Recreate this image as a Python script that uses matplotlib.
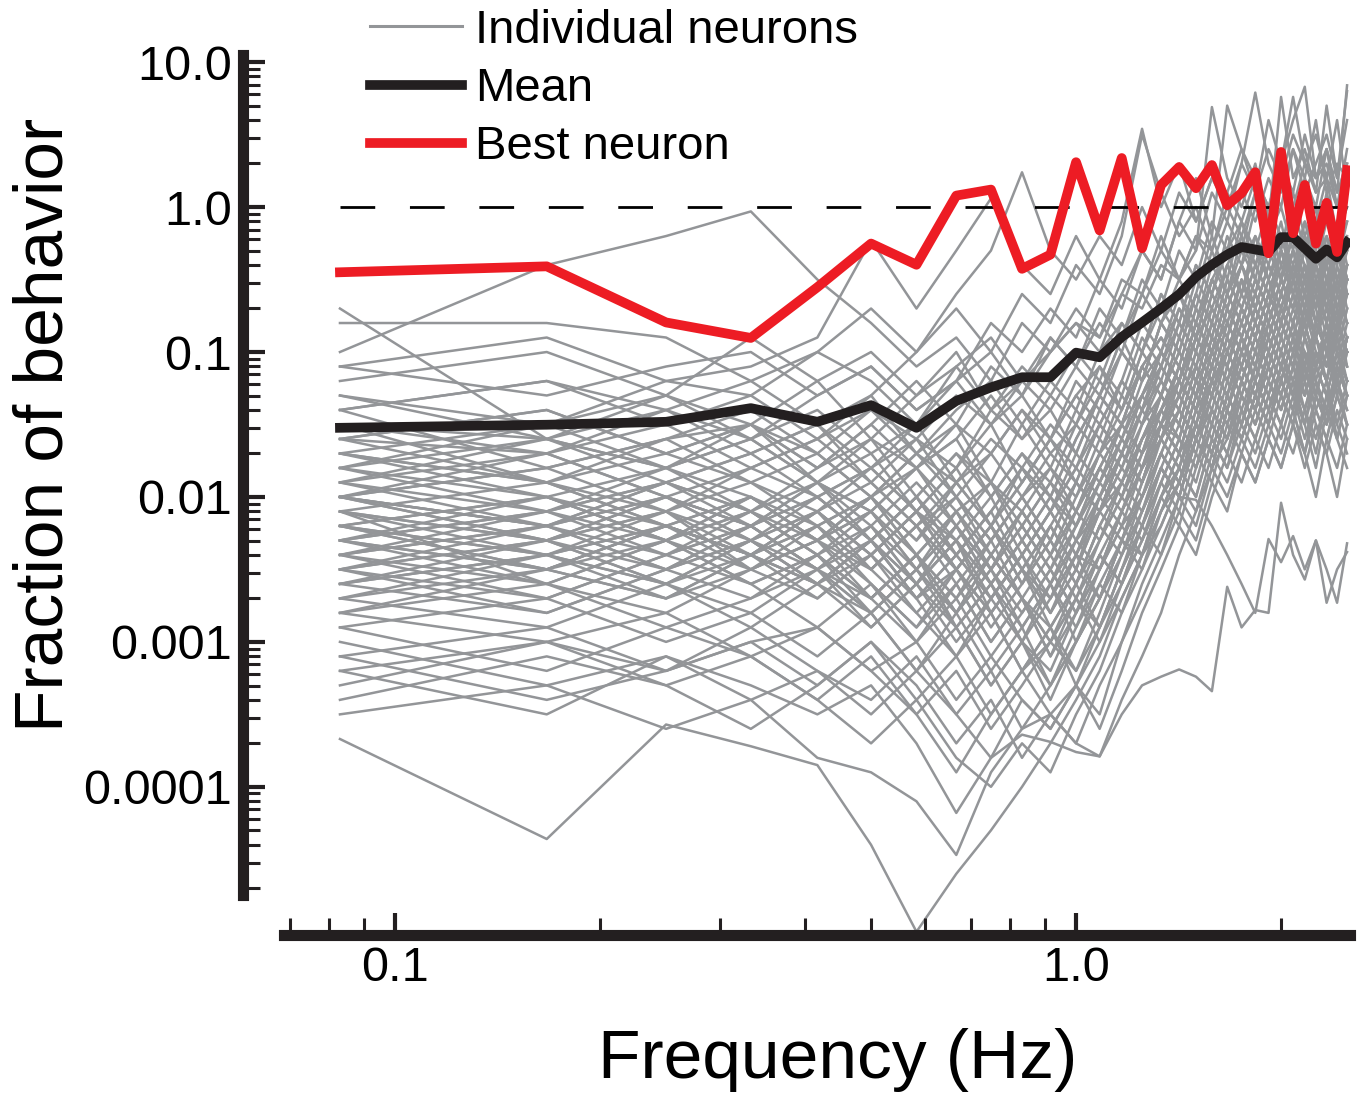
import numpy as np
import matplotlib
matplotlib.use("Agg")
import matplotlib.pyplot as plt
from matplotlib.ticker import FixedLocator, NullFormatter

plt.rcParams["font.family"] = ["Liberation Sans", "DejaVu Sans"]
plt.rcParams["lines.scale_dashes"] = False

# stimulus frequencies (Hz)
freq = [0.083, 0.167, 0.25, 0.333, 0.417, 0.5, 0.583, 0.667, 0.75, 0.833,
        0.917, 1.0, 1.083, 1.167, 1.25, 1.333, 1.417, 1.5, 1.583, 1.667,
        1.75, 1.833, 1.917, 2.0, 2.083, 2.167, 2.25, 2.333, 2.417, 2.5]

mean_frac = [0.030, 0.0315, 0.033, 0.041, 0.033, 0.043, 0.030, 0.046, 0.057, 0.067,
             0.067, 0.099, 0.092, 0.127, 0.16, 0.20, 0.25, 0.33, 0.40, 0.47,
             0.53, 0.51, 0.49, 0.62, 0.62, 0.52, 0.44, 0.51, 0.45, 0.57]

best_frac = [0.355, 0.39, 0.16, 0.125, 0.28, 0.56, 0.40, 1.2, 1.32, 0.375,
             0.47, 2.04, 0.69, 2.18, 0.52, 1.42, 1.89, 1.35, 1.95, 1.03,
             1.25, 1.74, 0.48, 2.4, 0.66, 1.42, 0.56, 1.07, 0.49, 1.8]

neurons_high = [
    [-0.7, -1.6, -1.3, -0.9, -1.2, -1.0, -1.3, -1.1, -0.9, -1.2, -1.0, -0.8, -0.9, -0.6, -0.7, -0.4, -0.5, -0.2, -0.3, 0.0, -0.2, 0.1, -0.1, 0.2, 0.0, 0.3, 0.1, 0.2, 0.0, 0.3],
    [-1.0, -0.4, -0.2, -0.03, -0.5, -0.8, -1.1, -0.9, -1.2, -0.8, -1.0, -0.7, -0.9, -0.5, -0.6, -0.3, -0.5, -0.2, -0.4, -0.1, -0.3, 0.1, -0.2, 0.0, -0.3, 0.1, -0.1, 0.2, -0.2, 0.0],
    [-0.8, -0.8, -0.9, -1.2, -1.0, -0.7, -1.0, -0.6, -0.3, 0.24, -0.3, -0.5, -0.2, -0.4, 0.0, -0.3, 0.1, -0.1, 0.2, 0.0, 0.3, 0.1, 0.4, 0.2, 0.5, 0.3, 0.2, 0.4, 0.1, 0.3],
    [-1.1, -0.9, -1.2, -1.1, -0.9, -0.23, -0.7, -0.3, 0.06, -0.4, -0.6, -0.2, -0.5, -0.1, 0.54, 0.0, 0.3, -0.1, 0.2, 0.1, 0.4, 0.2, 0.0, 0.3, 0.1, 0.5, 0.2, 0.3, 0.0, 0.4],
    [-1.1, -1.3, -1.1, -1.0, -1.3, -1.1, -1.4, -1.2, -1.0, -1.3, -0.9, -1.1, -0.7, -0.9, -0.5, -0.7, -0.3, -0.5, -0.1, -0.3, 0.1, -0.1, 0.2, 0.0, 0.4, 0.1, 0.3, 0.5, 0.2, 0.6],
    [-1.3, -1.5, -1.2, -1.3, -1.0, -1.2, -1.5, -1.1, -1.4, -1.1, -1.3, -1.0, -1.2, -0.8, -1.0, -0.6, -0.8, -0.4, -0.6, -0.2, -0.4, 0.0, -0.2, 0.3, -0.1, 0.2, 0.0, 0.4, 0.1, 0.84],
    [-1.2, -1.0, -1.3, -1.5, -1.2, -1.6, -1.3, -1.0, -1.4, -1.2, -0.9, -1.1, -0.8, -1.0, -0.6, -0.2, -0.5, -0.3, 0.1, -0.1, 0.3, 0.79, 0.3, 0.1, 0.4, 0.2, 0.6, 0.1, 0.3, 0.2],
    [-1.4, -1.2, -1.4, -1.6, -1.3, -1.1, -1.4, -1.2, -0.8, -1.0, -0.7, -0.9, -0.5, -0.7, -0.3, -0.5, -0.1, -0.3, 0.69, 0.2, 0.0, 0.3, -0.1, 0.76, 0.2, 0.4, 0.1, 0.7, 0.2, 0.8],
    [-1.5, -1.7, -1.4, -1.2, -1.5, -1.3, -1.0, -0.7, -1.0, -0.6, -0.8, -0.4, -0.6, -0.2, 0.5, 0.1, -0.2, 0.0, -0.3, 0.1, -0.1, 0.2, 0.0, 0.3, 0.6, 0.83, 0.2, 0.4, 0.0, 0.2],
    [-1.6, -1.4, -1.7, -1.5, -1.8, -1.5, -1.2, -1.5, -1.1, -1.3, -1.0, -0.8, -1.0, -0.6, -0.3, -0.5, -0.1, 0.2, -0.2, 0.7, 0.4, 0.1, 0.6, 0.3, 0.76, 0.3, 0.5, 0.2, 0.6, 0.1],
]

neurons_mid = [
    [-1.5, -1.6, -1.4, -1.7, -1.5, -1.9, -1.6, -1.8, -1.4, -1.6, -1.3, -1.5, -1.1, -1.3, -0.9, -1.1, -0.7, -0.9, -0.5, -0.7, -0.4, -0.6, -0.2, -0.5, -0.3, -0.6, -0.2, -0.4, -0.1, -0.3],
    [-1.6, -1.9, -1.7, -1.5, -1.8, -1.6, -2.0, -1.7, -1.9, -1.5, -1.8, -1.4, -1.6, -1.2, -1.4, -1.0, -1.2, -0.8, -1.0, -0.6, -0.8, -0.5, -0.7, -0.3, -0.5, -0.2, -0.4, -0.1, -0.3, -0.5],
    [-1.7, -1.5, -1.8, -1.6, -1.4, -1.7, -1.5, -1.9, -1.6, -1.8, -1.5, -1.7, -1.3, -1.0, -1.2, -0.8, -1.0, -0.6, -0.8, -0.4, -0.6, -0.3, -0.5, -0.8, -0.4, -0.7, -0.3, -0.6, -0.9, -0.5],
    [-1.8, -1.6, -1.9, -2.1, -1.8, -1.5, -1.8, -1.6, -2.0, -1.7, -1.9, -1.5, -1.7, -1.3, -1.5, -1.1, -1.3, -0.9, -1.1, -0.7, -0.9, -0.6, -0.8, -0.5, -0.7, -0.4, -0.8, -0.5, -0.3, -0.6],
    [-1.4, -1.8, -1.6, -1.5, -1.9, -1.7, -2.1, -1.8, -1.5, -1.9, -1.6, -1.2, -1.4, -1.0, -1.2, -0.8, -0.6, -0.9, -0.5, -0.3, -0.6, -0.2, -0.4, -0.1, -0.5, -0.3, 0.0, -0.4, -0.2, -0.6],
    [-1.9, -1.7, -2.0, -1.8, -1.6, -1.9, -2.2, -1.9, -1.7, -2.0, -1.7, -1.9, -1.5, -1.7, -1.3, -1.5, -1.1, -1.3, -0.9, -1.1, -0.8, -1.0, -0.7, -0.9, -0.6, -0.9, -0.5, -0.8, -0.4, -0.7],
    [-1.6, -1.7, -1.5, -1.8, -2.0, -1.8, -1.5, -1.2, -1.5, -1.3, -1.6, -1.3, -1.1, -1.4, -1.0, -0.7, -0.9, -0.5, -0.7, -0.4, -0.2, -0.5, -0.1, -0.4, -0.2, -0.5, -0.1, -0.3, -0.6, -0.2],
    [-2.0, -1.8, -1.6, -1.9, -1.7, -2.0, -1.8, -2.2, -1.9, -2.1, -1.8, -2.0, -1.6, -1.8, -1.4, -1.2, -1.4, -1.0, -1.2, -0.8, -1.0, -0.7, -0.9, -0.6, -0.8, -0.5, -0.7, -1.0, -0.6, -0.8],
    [-1.5, -1.9, -2.1, -1.8, -1.6, -1.4, -1.7, -1.5, -1.9, -2.2, -1.9, -2.1, -1.7, -1.5, -1.1, -1.3, -0.9, -1.1, -0.7, -0.9, -0.5, -0.7, -0.4, -0.6, -0.3, -0.6, -0.4, -0.7, -0.3, -0.5],
    [-1.8, -1.5, -1.3, -1.6, -1.9, -2.1, -1.8, -1.6, -1.3, -1.6, -1.4, -1.7, -1.3, -0.9, -1.2, -0.8, -1.0, -0.6, -0.2, -0.5, -0.1, -0.4, -0.2, -0.5, 0.0, -0.3, -0.6, -0.2, -0.4, -0.1],
    [-1.7, -2.0, -1.8, -2.1, -1.9, -2.3, -2.0, -2.4, -2.1, -1.8, -2.1, -1.7, -1.9, -1.5, -1.7, -1.3, -1.5, -1.1, -1.3, -0.9, -1.1, -0.8, -1.0, -0.7, -0.9, -1.2, -0.8, -1.0, -0.7, -1.1],
    [-1.9, -1.6, -1.8, -1.5, -1.7, -1.4, -1.6, -1.3, -1.5, -1.2, -1.4, -1.1, -1.3, -0.9, -0.6, -0.8, -0.5, -0.7, -0.3, -0.6, -0.2, -0.4, -0.1, -0.3, 0.1, -0.2, 0.0, -0.3, -0.1, -0.4],
    [-2.0, -2.2, -1.9, -1.7, -2.0, -1.8, -2.1, -2.5, -2.2, -2.6, -2.2, -2.5, -2.0, -1.7, -1.9, -1.5, -1.7, -1.3, -1.1, -1.3, -0.9, -1.2, -0.8, -1.0, -1.3, -0.9, -1.1, -0.8, -1.2, -0.9],
    [-1.3, -1.6, -1.8, -1.6, -1.9, -1.6, -1.8, -1.5, -1.7, -1.4, -1.6, -1.3, -1.5, -1.2, -0.8, -1.0, -0.6, -0.8, -0.4, -0.6, -0.3, -0.5, -0.7, -0.3, -0.5, -0.2, -0.4, -0.6, -0.3, -0.1],
    [-1.6, -1.4, -1.7, -1.9, -2.2, -2.0, -2.3, -1.9, -2.2, -1.9, -1.6, -1.8, -1.4, -1.6, -1.2, -1.0, -1.2, -0.8, -0.5, -0.7, -0.4, -0.6, -0.3, -0.5, -0.2, -0.4, -0.7, -0.3, -0.5, -0.8],
    [-1.8, -2.1, -1.9, -1.7, -1.5, -1.8, -1.6, -2.0, -2.3, -2.0, -2.3, -1.9, -2.1, -1.7, -1.9, -1.5, -1.2, -1.4, -1.0, -1.2, -0.9, -1.1, -0.7, -0.9, -1.1, -0.7, -1.0, -1.2, -0.8, -1.0],
    [-1.4, -1.2, -1.5, -1.3, -1.6, -1.3, -1.7, -1.4, -1.2, -1.5, -1.2, -1.4, -1.0, -0.8, -1.0, -0.6, -0.8, -0.4, -0.6, -0.3, -0.1, -0.3, 0.0, -0.2, -0.5, -0.1, -0.3, 0.1, -0.2, 0.0],
    [-2.0, -1.7, -2.0, -2.2, -1.9, -2.1, -1.8, -2.1, -1.9, -2.3, -2.0, -2.2, -1.8, -2.0, -1.6, -1.4, -1.6, -1.2, -1.4, -1.0, -1.2, -0.9, -1.1, -0.8, -1.0, -0.8, -1.1, -0.9, -1.3, -1.0],
    [-1.7, -1.9, -1.6, -1.4, -1.7, -2.0, -1.7, -1.9, -2.2, -1.8, -2.0, -1.6, -1.3, -1.5, -1.1, -0.9, -1.1, -0.7, -0.9, -0.5, -0.7, -0.4, -0.6, -0.3, -0.6, -0.8, -0.4, -0.6, -0.2, -0.5],
    [-1.9, -2.1, -1.8, -2.0, -2.3, -2.0, -1.7, -2.0, -1.7, -1.4, -1.7, -1.5, -1.2, -1.4, -1.0, -1.2, -0.8, -1.0, -0.6, -0.8, -0.5, -0.8, -0.5, -0.7, -0.4, -0.6, -0.9, -0.5, -0.7, -0.4],
]

neurons_low = [
    [-2.1, -2.3, -2.0, -2.2, -2.5, -2.2, -2.6, -2.3, -2.8, -2.5, -2.7, -2.3, -2.1, -1.9, -1.6, -1.4, -1.1, -1.3, -0.9, -1.1, -0.8, -1.0, -0.7, -0.9, -0.6, -0.9, -0.6, -0.8, -1.0, -0.7],
    [-2.2, -2.0, -2.3, -2.1, -2.4, -2.7, -2.4, -2.9, -2.6, -3.0, -2.7, -2.4, -2.5, -2.1, -1.8, -1.5, -1.6, -1.2, -1.3, -1.0, -1.2, -0.9, -1.1, -0.8, -1.0, -0.7, -0.9, -1.2, -0.8, -1.0],
    [-2.3, -2.5, -2.2, -2.4, -2.2, -2.5, -2.2, -2.6, -3.0, -2.7, -3.1, -2.8, -2.5, -2.2, -2.0, -1.7, -1.4, -1.6, -1.2, -1.4, -1.1, -1.3, -1.0, -1.2, -0.9, -1.2, -0.9, -1.1, -0.8, -1.0],
    [-2.4, -2.1, -2.3, -2.6, -2.4, -2.8, -2.5, -2.2, -2.6, -2.9, -2.6, -3.0, -2.7, -2.3, -2.4, -2.0, -1.7, -1.5, -1.7, -1.3, -1.5, -1.2, -1.4, -1.1, -1.3, -1.0, -1.3, -1.5, -1.2, -1.4],
    [-2.0, -2.2, -2.4, -2.1, -2.3, -2.0, -2.4, -2.1, -2.5, -2.2, -2.5, -2.1, -1.8, -1.5, -1.3, -1.0, -1.2, -0.8, -1.0, -0.6, -0.8, -0.5, -0.7, -0.4, -0.6, -0.3, -0.6, -0.4, -0.7, -0.5],
    [-2.5, -2.3, -2.6, -2.4, -2.2, -2.6, -2.9, -2.5, -2.8, -3.2, -2.9, -3.3, -2.9, -2.5, -2.2, -1.9, -1.6, -1.8, -1.4, -1.6, -1.2, -1.4, -1.1, -1.3, -1.5, -1.1, -1.4, -1.2, -1.6, -1.3],
    [-2.2, -2.4, -2.1, -2.5, -2.7, -2.4, -2.1, -2.4, -2.7, -2.4, -2.1, -2.4, -2.0, -1.7, -1.4, -1.1, -1.3, -0.9, -0.7, -0.9, -0.6, -0.8, -0.5, -0.7, -0.4, -0.7, -0.5, -0.8, -0.5, -0.3],
    [-2.6, -2.4, -2.2, -2.5, -2.3, -2.1, -2.5, -2.8, -2.4, -2.7, -3.0, -2.7, -2.4, -2.6, -2.2, -1.8, -2.0, -1.6, -1.8, -1.4, -1.6, -1.3, -1.5, -1.2, -1.4, -1.7, -1.3, -1.5, -1.2, -1.4],
    [-2.1, -2.6, -2.3, -2.0, -2.3, -2.5, -2.2, -2.5, -2.2, -2.6, -2.3, -2.6, -2.2, -1.9, -1.6, -1.3, -1.5, -1.1, -1.3, -0.9, -1.1, -0.8, -1.0, -0.7, -0.9, -0.6, -0.8, -0.5, -0.8, -0.6],
    [-2.4, -2.2, -2.5, -2.7, -2.5, -2.9, -2.6, -3.0, -2.7, -2.4, -2.8, -2.5, -2.1, -2.3, -1.9, -1.6, -1.8, -1.4, -1.2, -1.4, -1.0, -1.2, -0.9, -1.1, -0.8, -1.0, -1.3, -1.0, -1.2, -0.9],
    [-2.3, -2.1, -2.4, -2.2, -2.5, -2.3, -2.7, -2.4, -2.1, -2.5, -2.8, -2.5, -2.7, -2.3, -2.0, -1.7, -1.9, -1.5, -1.7, -1.3, -1.5, -1.1, -1.3, -1.0, -1.2, -1.4, -1.1, -1.3, -1.0, -1.2],
    [-2.7, -2.5, -2.2, -2.4, -2.7, -2.4, -2.8, -3.1, -2.8, -3.2, -2.9, -3.2, -2.8, -2.4, -2.1, -1.8, -2.0, -1.6, -1.3, -1.5, -1.2, -1.4, -1.1, -1.3, -1.0, -1.3, -1.0, -1.2, -0.9, -1.1],
    [-2.2, -2.0, -2.2, -2.4, -2.1, -2.4, -2.1, -2.3, -2.6, -2.3, -2.0, -2.3, -1.9, -1.6, -1.8, -1.4, -1.1, -1.3, -0.9, -1.1, -0.7, -0.9, -0.6, -0.8, -0.5, -0.8, -0.6, -0.9, -0.6, -0.8],
    [-2.5, -2.8, -2.5, -2.3, -2.6, -2.8, -2.5, -2.9, -3.3, -3.0, -3.4, -3.0, -2.6, -2.8, -2.4, -2.1, -1.8, -2.0, -1.6, -1.8, -1.4, -1.6, -1.3, -1.5, -1.2, -1.5, -1.8, -1.4, -1.6, -1.3],
    [-2.0, -2.3, -2.5, -2.2, -2.0, -2.3, -2.6, -2.2, -2.5, -2.1, -2.4, -2.0, -1.7, -1.9, -1.5, -1.2, -1.4, -1.0, -1.2, -0.8, -1.0, -0.7, -0.9, -0.6, -0.8, -0.5, -0.7, -0.4, -0.7, -0.9],
    [-2.6, -2.3, -2.1, -2.4, -2.6, -2.3, -2.7, -2.5, -2.9, -2.6, -2.3, -2.6, -2.3, -2.0, -1.7, -1.5, -1.7, -1.3, -1.5, -1.1, -1.3, -1.0, -1.2, -0.9, -1.1, -0.8, -1.1, -0.9, -1.2, -0.9],
    [-2.3, -2.6, -2.8, -2.5, -2.3, -2.7, -3.0, -2.6, -3.0, -2.7, -3.1, -2.7, -3.0, -2.6, -2.3, -2.0, -2.2, -1.8, -1.5, -1.7, -1.4, -1.6, -1.3, -1.5, -1.2, -1.4, -1.7, -1.3, -1.5, -1.7],
    [-2.1, -2.4, -2.2, -2.0, -2.3, -2.1, -2.4, -2.7, -2.3, -2.0, -2.3, -1.9, -2.1, -1.7, -1.4, -1.6, -1.2, -0.9, -1.1, -0.7, -0.9, -0.6, -0.8, -0.5, -0.7, -0.4, -0.6, -0.3, -0.6, -0.4],
    [-2.8, -2.5, -2.7, -2.4, -2.6, -2.9, -2.6, -2.3, -2.7, -3.0, -2.6, -2.9, -2.5, -2.2, -2.4, -2.0, -1.7, -1.9, -1.5, -1.7, -1.3, -1.5, -1.2, -1.4, -1.1, -1.3, -1.0, -1.2, -1.5, -1.2],
    [-2.4, -2.6, -2.3, -2.1, -2.4, -2.2, -2.6, -2.3, -2.0, -2.4, -2.1, -1.8, -2.0, -1.6, -1.3, -1.0, -1.2, -0.8, -1.0, -0.6, -0.4, -0.7, -0.4, -0.6, -0.3, -0.5, -0.2, -0.5, -0.3, -0.6],
    [-2.5, -2.2, -2.5, -2.3, -2.1, -2.5, -2.8, -2.5, -2.8, -2.5, -2.9, -2.6, -2.2, -1.9, -2.1, -1.7, -1.4, -1.6, -1.2, -1.0, -1.2, -0.9, -1.1, -0.8, -1.0, -0.7, -0.9, -1.1, -0.8, -1.0],
    [-2.2, -2.5, -2.7, -2.4, -2.6, -2.3, -2.7, -3.1, -2.7, -2.4, -2.7, -2.4, -2.7, -2.3, -1.9, -1.6, -1.8, -1.4, -1.6, -1.2, -1.4, -1.1, -1.3, -1.0, -1.2, -1.5, -1.1, -1.3, -1.0, -1.2],
    [-2.7, -2.9, -2.6, -2.8, -2.5, -2.8, -3.2, -2.8, -3.2, -2.9, -3.3, -2.9, -2.6, -2.3, -2.5, -2.1, -1.8, -2.0, -1.6, -1.8, -1.5, -1.7, -1.4, -1.6, -1.3, -1.6, -1.3, -1.5, -1.2, -1.5],
    [-2.3, -2.0, -2.3, -2.5, -2.2, -2.0, -2.3, -2.0, -2.4, -2.1, -2.4, -2.1, -1.8, -2.0, -1.6, -1.3, -1.5, -1.1, -0.8, -1.0, -0.7, -0.9, -0.6, -0.8, -0.5, -0.7, -0.4, -0.7, -0.9, -0.6],
    [-2.6, -2.8, -2.5, -2.2, -2.5, -2.7, -2.4, -2.8, -2.5, -2.8, -2.5, -2.8, -2.4, -2.1, -1.8, -1.6, -1.3, -1.5, -1.1, -1.3, -1.0, -1.2, -0.9, -1.1, -0.8, -1.1, -0.8, -1.0, -1.3, -1.0],
    [-2.4, -2.7, -2.4, -2.6, -2.9, -2.6, -3.0, -2.7, -3.1, -2.8, -2.5, -2.8, -2.4, -2.6, -2.2, -1.9, -2.1, -1.7, -1.9, -1.5, -1.7, -1.4, -1.6, -1.3, -1.5, -1.2, -1.5, -1.7, -1.4, -1.6],
    [-2.0, -2.2, -1.9, -2.1, -2.4, -2.1, -2.5, -2.2, -2.6, -2.3, -2.6, -2.2, -1.9, -1.6, -1.8, -1.4, -1.2, -0.9, -1.1, -0.7, -0.9, -0.6, -0.8, -0.5, -0.7, -0.4, -0.7, -0.5, -0.2, -0.5],
    [-2.7, -2.4, -2.6, -2.9, -2.6, -2.3, -2.6, -2.9, -2.6, -3.0, -3.2, -2.8, -2.5, -2.1, -2.3, -1.9, -1.6, -1.8, -1.4, -1.6, -1.2, -1.4, -1.1, -1.3, -1.0, -1.3, -1.0, -1.2, -0.9, -1.2],
    [-2.2, -2.4, -2.6, -2.3, -2.1, -2.4, -2.1, -2.5, -2.8, -2.5, -2.2, -2.5, -2.1, -1.8, -1.5, -1.3, -1.0, -1.2, -0.8, -1.0, -0.7, -0.9, -0.6, -0.8, -1.0, -0.7, -0.9, -0.6, -0.8, -0.5],
    [-2.5, -2.3, -2.0, -2.3, -2.5, -2.8, -2.5, -2.8, -2.4, -2.7, -3.0, -2.6, -2.9, -2.5, -2.1, -1.8, -2.0, -1.6, -1.8, -1.4, -1.6, -1.3, -1.5, -1.2, -1.4, -1.1, -1.4, -1.6, -1.3, -1.5],
]

neurons_extra = [
    [-1.8, -2.0, -2.3, -2.0, -2.2, -2.5, -2.2, -2.0, -2.3, -2.0, -1.8, -2.1, -1.7, -1.4, -1.1, -1.3, -0.9, -0.6, -0.8, -0.4, -0.6, -0.3, -0.5, -0.2, -0.4, -0.1, -0.4, -0.2, -0.5, -0.3],
    [-2.1, -1.9, -2.2, -2.4, -2.1, -1.9, -2.2, -2.5, -2.2, -2.5, -2.2, -1.9, -2.1, -1.7, -1.9, -1.5, -1.3, -1.5, -1.1, -1.3, -1.0, -1.2, -0.9, -1.1, -0.8, -1.1, -0.8, -1.0, -1.2, -0.9],
    [-2.3, -2.1, -1.9, -2.2, -2.0, -2.3, -2.0, -2.4, -2.1, -1.8, -2.1, -1.8, -1.5, -1.7, -1.3, -1.1, -0.8, -1.0, -0.6, -0.8, -0.5, -0.7, -0.4, -0.6, -0.3, -0.6, -0.3, -0.5, -0.8, -0.4],
    [-1.9, -2.2, -2.0, -2.3, -2.6, -2.3, -2.0, -2.3, -2.6, -2.3, -2.6, -2.3, -2.0, -2.2, -1.8, -1.6, -1.3, -1.1, -1.3, -0.9, -1.1, -0.8, -1.0, -0.7, -0.9, -0.6, -0.9, -0.7, -1.0, -0.7],
    [-2.4, -2.2, -2.0, -2.2, -1.9, -2.2, -2.5, -2.1, -2.4, -2.7, -2.4, -2.7, -2.3, -2.0, -2.2, -1.8, -1.5, -1.7, -1.3, -1.5, -1.2, -1.4, -1.0, -1.2, -1.4, -1.0, -1.3, -1.0, -1.2, -0.9],
    [-2.0, -2.3, -2.1, -1.9, -2.1, -1.8, -2.1, -1.8, -2.2, -1.9, -1.6, -1.9, -1.5, -1.2, -1.4, -1.0, -0.7, -0.9, -0.5, -0.7, -0.4, -0.2, -0.5, -0.3, -0.6, -0.3, -0.1, -0.4, -0.2, -0.5],
    [-2.6, -2.4, -2.7, -2.5, -2.3, -2.0, -2.4, -2.7, -2.4, -2.1, -2.4, -2.1, -2.3, -1.9, -1.6, -1.4, -1.6, -1.2, -1.0, -1.2, -0.9, -1.1, -0.8, -1.0, -0.7, -0.9, -1.2, -0.9, -1.1, -0.8],
    [-2.2, -2.5, -2.3, -2.6, -2.4, -2.7, -2.4, -2.1, -2.5, -2.2, -2.5, -2.2, -1.9, -2.1, -1.7, -1.4, -1.2, -1.4, -1.0, -0.8, -1.0, -0.7, -0.9, -0.6, -0.8, -0.5, -0.8, -0.6, -0.9, -0.6],
    [-1.7, -1.9, -2.2, -2.4, -2.1, -2.4, -2.7, -2.4, -2.7, -2.4, -2.1, -2.4, -2.0, -1.7, -1.9, -1.5, -1.2, -1.4, -1.0, -1.2, -0.9, -1.1, -0.8, -1.0, -1.2, -0.9, -1.1, -0.8, -1.0, -1.3],
    [-2.5, -2.7, -2.4, -2.2, -2.5, -2.2, -1.9, -2.2, -2.5, -2.2, -1.9, -2.2, -1.8, -1.5, -1.7, -1.3, -1.0, -1.2, -0.8, -1.0, -0.7, -0.9, -0.6, -0.8, -0.5, -0.8, -0.5, -0.3, -0.6, -0.4],
    [-2.3, -2.5, -2.2, -2.0, -2.3, -2.6, -2.9, -2.6, -2.3, -2.7, -2.9, -2.6, -2.2, -2.4, -2.0, -1.7, -1.9, -1.5, -1.7, -1.3, -1.5, -1.2, -1.4, -1.1, -1.3, -1.0, -1.2, -1.5, -1.1, -1.3],
    [-2.0, -1.8, -2.1, -2.3, -2.0, -2.3, -2.0, -1.7, -2.0, -1.7, -2.0, -1.6, -1.3, -1.5, -1.1, -0.9, -1.1, -0.7, -0.9, -0.5, -0.7, -0.4, -0.6, -0.3, -0.5, -0.2, -0.5, -0.3, -0.6, -0.3],
    [-2.8, -2.6, -2.9, -2.7, -2.4, -2.7, -2.4, -2.8, -2.5, -2.9, -2.6, -2.3, -2.5, -2.1, -1.8, -1.5, -1.7, -1.3, -1.5, -1.1, -1.3, -1.0, -1.2, -0.9, -1.1, -0.8, -1.1, -0.8, -1.0, -1.2],
    [-2.1, -2.3, -2.6, -2.3, -2.6, -2.4, -2.1, -2.5, -2.2, -2.5, -2.8, -2.4, -2.1, -1.8, -2.0, -1.6, -1.4, -1.6, -1.2, -1.4, -1.1, -1.3, -1.0, -1.2, -0.9, -1.2, -0.9, -1.1, -0.8, -1.0],
]

neurons_vlow = [
    [-3.67, -4.36, -3.57, -3.72, -3.85, -4.4, -5.0, -4.6, -4.3, -4.0, -3.7, -3.4, -3.1, -2.7, -2.4, -2.1, -1.9, -1.6, -1.8, -1.4, -1.6, -1.3, -1.5, -1.2, -1.4, -1.1, -1.3, -1.0, -1.2, -0.9],
    [-3.5, -3.3, -3.6, -3.4, -3.8, -3.9, -4.1, -4.47, -3.9, -3.6, -3.5, -3.3, -3.0, -2.7, -2.4, -2.2, -1.9, -2.1, -1.7, -1.9, -1.6, -1.8, -1.5, -1.7, -1.4, -1.7, -1.4, -1.6, -1.3, -1.5],
    [-3.2, -3.5, -3.1, -3.3, -3.5, -3.3, -3.7, -4.18, -3.8, -3.4, -3.6, -3.3, -3.5, -3.0, -2.6, -2.3, -2.0, -2.2, -1.8, -2.0, -1.7, -1.9, -1.6, -1.8, -1.5, -1.8, -1.5, -1.7, -2.0, -1.6],
    [-3.0, -3.3, -3.1, -3.4, -3.2, -3.5, -3.2, -3.5, -3.8, -3.64, -3.69, -3.76, -3.79, -3.4, -3.1, -2.8, -2.4, -2.1, -1.8, -1.6, -1.3, -1.5, -1.2, -1.4, -1.1, -1.3, -1.0, -1.2, -0.9, -1.1],
    [-3.1, -2.9, -3.2, -3.0, -3.3, -3.0, -3.4, -3.1, -3.5, -3.2, -3.5, -3.7, -3.79, -3.5, -3.3, -3.24, -3.19, -3.24, -3.34, -2.62, -2.9, -2.78, -2.8, -2.04, -2.4, -2.57, -2.3, -2.5, -2.73, -2.32],
    [-2.9, -3.2, -2.9, -3.1, -3.4, -3.1, -3.5, -3.9, -3.5, -3.2, -3.0, -2.7, -2.9, -2.5, -2.2, -2.4, -2.0, -2.02, -2.2, -2.4, -2.6, -2.8, -2.29, -2.45, -2.27, -2.5, -2.3, -2.73, -2.5, -2.38],
    [-3.3, -3.0, -3.3, -3.1, -3.4, -3.7, -3.4, -3.8, -4.0, -3.7, -3.9, -3.5, -3.2, -2.8, -2.5, -2.2, -1.9, -1.6, -1.8, -1.4, -1.6, -1.3, -1.5, -1.1, -1.3, -1.0, -1.2, -1.4, -1.1, -1.3],
    [-2.8, -3.0, -3.2, -2.9, -3.2, -3.4, -3.1, -3.5, -3.2, -3.6, -3.3, -3.0, -2.7, -2.4, -2.1, -1.8, -2.0, -1.6, -1.4, -1.6, -1.3, -1.5, -1.2, -1.4, -1.1, -1.4, -1.1, -1.3, -1.0, -1.2],
    [-3.4, -3.1, -3.3, -3.6, -3.3, -3.0, -3.3, -3.7, -3.4, -3.8, -3.5, -3.7, -3.3, -3.0, -2.7, -2.4, -2.1, -2.3, -1.9, -2.1, -1.7, -1.9, -1.6, -1.8, -1.5, -1.7, -2.0, -1.6, -1.8, -1.5],
    [-2.9, -2.7, -3.0, -2.8, -3.1, -2.8, -3.2, -2.9, -3.3, -3.0, -3.3, -3.0, -2.7, -2.3, -2.0, -1.7, -1.9, -1.5, -1.2, -1.4, -1.1, -1.3, -1.0, -1.2, -0.9, -1.2, -0.9, -1.1, -0.8, -1.0],
    [-3.1, -3.4, -3.2, -3.0, -2.9, -3.2, -3.0, -3.4, -3.1, -3.4, -3.6, -3.3, -3.6, -3.2, -2.8, -2.5, -2.2, -2.4, -2.0, -1.7, -1.9, -1.6, -1.8, -1.5, -1.7, -1.4, -1.6, -1.3, -1.6, -1.8],
    [-3.2, -3.0, -2.8, -3.1, -2.9, -3.2, -3.5, -3.2, -3.6, -3.3, -3.0, -3.2, -2.9, -2.6, -2.3, -2.0, -1.8, -1.5, -1.7, -1.3, -1.5, -1.2, -1.4, -1.1, -1.3, -1.5, -1.2, -1.4, -1.1, -1.3],
]

GRAY = "#939598"
RED = "#ed1c24"
BLACK = "#231f20"

W, H = 1363, 1098
fig = plt.figure(figsize=(W / 100, H / 100), dpi=100)
ax = fig.add_axes([243 / W, 1 - 935 / H, 1107 / W, 880 / H])
ax.set_xscale("log")
ax.set_yscale("log")

gray_lines = []
for group in (neurons_high, neurons_mid, neurons_low, neurons_extra, neurons_vlow):
    for row in group:
        ln, = ax.plot(freq, 10.0 ** np.asarray(row), color=GRAY, lw=1.8, zorder=1)
        gray_lines.append(ln)

ax.hlines(1.0, freq[0], freq[-1], colors="black", lw=2, linestyles=(0, (25, 25)), zorder=2)
mean_ln, = ax.plot(freq, mean_frac, color=BLACK, lw=7, zorder=3)
best_ln, = ax.plot(freq, best_frac, color=RED, lw=7, zorder=4)

xlim = (0.0598, 2.525)
ylim = (9.5e-6, 11.2)
ax.set_xlim(*xlim)
ax.set_ylim(*ylim)

for side in ("top", "right"):
    ax.spines[side].set_visible(False)
for side in ("left", "bottom"):
    ax.spines[side].set_linewidth(8)
    ax.spines[side].set_color(BLACK)
ax.spines["left"].set_bounds(1.8e-5, ylim[1])
ax.spines["bottom"].set_bounds(0.0687, xlim[1])

ax.set_xticks([0.1, 1.0], labels=["0.1", "1.0"])
ax.xaxis.set_minor_locator(FixedLocator([0.07, 0.08, 0.09, 0.2, 0.3, 0.4, 0.5, 0.6,
                                         0.7, 0.8, 0.9, 2.0]))
ax.xaxis.set_minor_formatter(NullFormatter())
ax.set_yticks([1e-4, 1e-3, 1e-2, 0.1, 1.0, 10.0],
              labels=["0.0001", "0.001", "0.01", "0.1", "1.0", "10.0"])
ymin_ticks = [m * 10.0 ** e for e in range(-5, 1) for m in range(2, 10)]
ax.yaxis.set_minor_locator(FixedLocator([t for t in ymin_ticks if t >= 1.8e-5]))
ax.yaxis.set_minor_formatter(NullFormatter())

ax.tick_params(which="major", direction="in", length=16, width=3, labelsize=35,
               color=BLACK, pad=8)
ax.tick_params(which="minor", direction="in", length=12, width=2.2, color=BLACK)

fig.text(45 / W, 1 - 425 / H, "Fraction of behavior", rotation=90,
         ha="center", va="center", fontsize=50)
fig.text(838 / W, 1 - 1060 / H, "Frequency (Hz)", ha="center", va="center", fontsize=50)

leg = fig.legend([gray_lines[0], mean_ln, best_ln],
                 ["Individual neurons", "Mean", "Best neuron"],
                 loc="upper left", bbox_to_anchor=(370 / W, 1 - 9 / H),
                 frameon=False, fontsize=34, handlelength=1.95, handletextpad=0.27,
                 labelspacing=0.3, borderpad=0, borderaxespad=0)
leg.get_lines()[0].set_linewidth(2.2)

fig.savefig("out.png", dpi=100)
